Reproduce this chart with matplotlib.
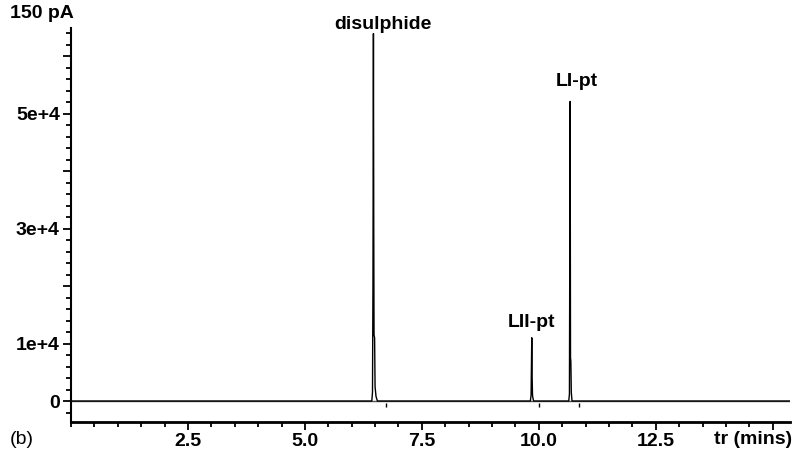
import numpy as np
import matplotlib.pyplot as plt
from matplotlib.ticker import MultipleLocator

plt.rcParams['font.family'] = ['Liberation Sans', 'DejaVu Sans']

# chromatogram trace (time in min, signal)
t = [0.0, 6.43, 6.445, 6.455, 6.465, 6.472, 6.478, 6.49, 6.50, 6.52, 6.55,
     9.82, 9.835, 9.85, 9.858, 9.866, 9.875, 9.89,
     10.64, 10.655, 10.67, 10.678, 10.685, 10.695, 10.71, 15.37]
signal = [0, 0, 1500, 20000, 63900, 30000, 11500, 11000, 2500, 800, 0,
          0, 1000, 11000, 4000, 1000, 500, 0,
          0, 1200, 52100, 7450, 7000, 1500, 0, 0]

# peak integration end markers
marker_t = [6.73, 10.01, 10.86]

peak_names = ['disulphide', 'LII-pt', 'LI-pt']
peak_t = [6.47, 9.85, 10.67]
peak_h = [63900, 11000, 52100]

xtick_vals = [2.5, 5.0, 7.5, 10.0, 12.5, 15.0]
xtick_text = ['2.5', '5.0', '7.5', '10.0', '12.5', '']
ytick_vals = [0, 10000, 20000, 30000, 40000, 50000, 60000]
ytick_text = ['0', '1e+4', '', '3e+4', '', '5e+4', '']

fig = plt.figure(figsize=(7.98, 4.57), dpi=100)
ax = fig.add_axes([71 / 798, 35 / 457, (790 - 71) / 798, (422 - 28) / 457])

ax.plot(t, signal, color='black', lw=1.0)
ax.axhline(0, color='#555555', lw=1.0, zorder=1)
ax.vlines(marker_t, -1000, -300, color='black', lw=1.0)

# label offsets in points (dx, dy above the apex)
offsets = [(7, 3.5), (0, 8), (5, 11)]
for name, x, h, (dx, dy) in zip(peak_names, peak_t, peak_h, offsets):
    ax.annotate(name, (x, h), xytext=(dx, dy), textcoords='offset points',
                ha='center', va='baseline', fontsize=14, fontweight='bold')

ax.set_xlim(0, 15.37)
ax.set_ylim(-3650, 64870)

ax.set_xticks(xtick_vals)
ax.set_xticklabels(xtick_text, fontsize=14, fontweight='bold')
ax.xaxis.set_minor_locator(MultipleLocator(0.5))
ax.set_yticks(ytick_vals)
ax.set_yticklabels(ytick_text, fontsize=14, fontweight='bold')
ax.yaxis.set_minor_locator(MultipleLocator(2000))

ax.tick_params(which='major', direction='out', length=6, width=1.3, pad=2)
ax.tick_params(which='minor', direction='out', length=3.5, width=1.3)

for side in ['top', 'right']:
    ax.spines[side].set_visible(False)
ax.spines['left'].set_linewidth(1.5)
ax.spines['bottom'].set_linewidth(2)

fig.text(792 / 798, 1 - 439 / 457, 'tr (mins)', ha='right', va='center',
         fontsize=14, fontweight='bold')
fig.text(10 / 798, 1 - 14 / 457, '150 pA', ha='left', va='center',
         fontsize=14, fontweight='bold')
fig.text(10 / 798, 1 - 439 / 457, '(b)', ha='left', va='center', fontsize=14)

fig.savefig('out.png', dpi=100)
